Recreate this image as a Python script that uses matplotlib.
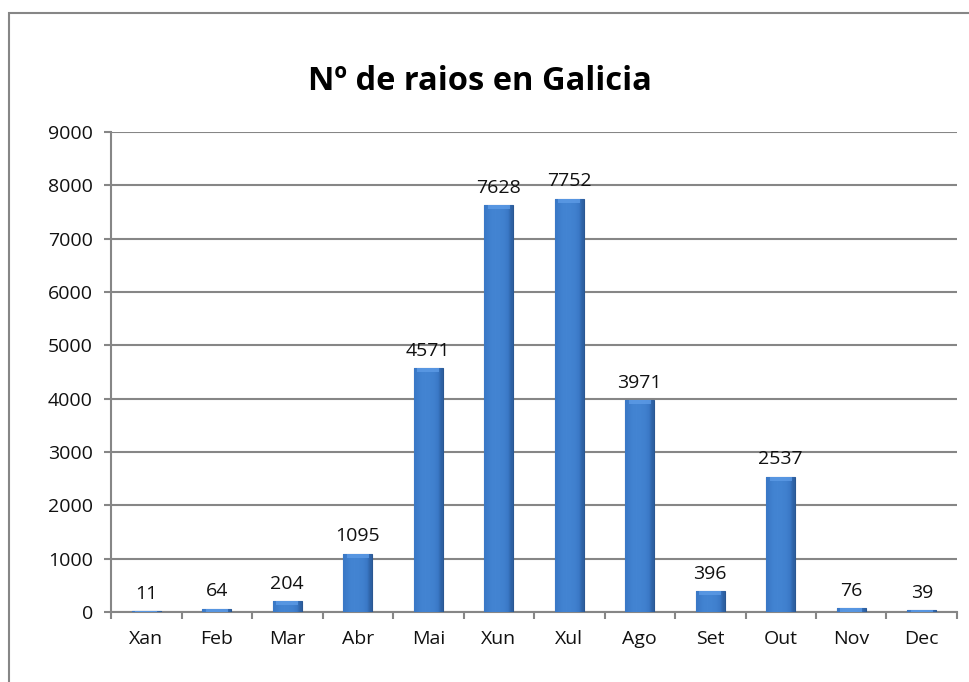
import numpy as np
import matplotlib.pyplot as plt
from matplotlib.patches import Rectangle
from matplotlib.colors import LinearSegmentedColormap

# datos
meses = ["Xan", "Feb", "Mar", "Abr", "Mai", "Xun", "Xul", "Ago", "Set", "Out", "Nov", "Dec"]
raios = [11, 64, 204, 1095, 4571, 7628, 7752, 3971, 396, 2537, 76, 39]
titulo = "Nº de raios en Galicia"

plt.rcParams['font.family'] = ['Open Sans', 'DejaVu Sans']

fig = plt.figure(figsize=(9.69, 6.82), dpi=100)
ax = fig.add_axes([0.1146, 0.1026, 0.873, 0.7039])

# marco do gráfico
fig.patches.append(Rectangle((0.0093, -0.1), 2, 0.981 + 0.1, transform=fig.transFigure,
                             fill=False, edgecolor='#868686', linewidth=1.5))

x = np.arange(len(meses))
bars = ax.bar(x, raios, width=0.41, color='#3A78C6', edgecolor='#2A5792', linewidth=0.8, zorder=3)

# degradado horizontal tipo Excel
azul = LinearSegmentedColormap.from_list('azul', ['#27548F', '#3A78C6', '#4384D2'])
grad = np.array([[0.5, 0.85, 1.0, 1.0, 0.95, 0.85, 0.6, 0.15]])
for b in bars:
    x0, y0 = b.get_x(), b.get_y()
    w, h = b.get_width(), b.get_height()
    im = ax.imshow(grad, cmap=azul, vmin=0, vmax=1, aspect='auto',
                   extent=(x0, x0 + w, y0, y0 + h), zorder=3, interpolation='bicubic')
    im.set_clip_path(b)
    # bisel superior
    ax.fill_between([x0 + w * 0.12, x0 + w * 0.88], y0 + h - min(h, 80), y0 + h,
                    color='#5D9BE6', alpha=0.8, zorder=4, linewidth=0).set_clip_path(b)

for xi, v in zip(x, raios):
    ax.annotate(str(v), (xi, v), xytext=(0, 6), textcoords='offset points',
                ha='center', va='bottom', fontsize=14, color='#111111')

ax.set_xlim(-0.5, len(meses) - 0.5)
ax.set_ylim(0, 9000)
ax.set_yticks(np.arange(0, 9001, 1000))
ax.set_xticks(x)
ax.set_xticklabels(meses)
ax.set_xticks(np.arange(-0.5, len(meses), 1), minor=True)
ax.tick_params(axis='x', which='major', length=0, pad=13, labelsize=14, colors='#111111')
ax.tick_params(axis='x', which='minor', length=5, width=1.5, color='#868686')
ax.tick_params(axis='y', length=5, width=1.5, color='#868686', pad=8, labelsize=14,
               labelcolor='#111111')

ax.grid(axis='y', color='#868686', linewidth=1.5, zorder=0)
for s in ['top', 'right']:
    ax.spines[s].set_visible(False)
for s in ['left', 'bottom']:
    ax.spines[s].set_color('#868686')
    ax.spines[s].set_linewidth(1.5)

fig.text(0.495, 0.88, titulo, ha='center', va='center', fontsize=23.5, fontweight='bold')

fig.savefig('out.png', dpi=100)
